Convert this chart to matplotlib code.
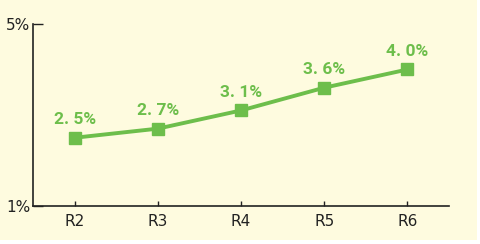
import matplotlib
matplotlib.use("Agg")
import matplotlib.pyplot as plt
from matplotlib.patches import Rectangle

categories = ["R2", "R3", "R4", "R5", "R6"]
values = [2.5, 2.7, 3.1, 3.6, 4.0]
value_labels = ["2. 5%", "2. 7%", "3. 1%", "3. 6%", "4. 0%"]
ytick_values = [1, 5]
ytick_labels = ["1%", "5%"]

W, H = 481, 244
fig = plt.figure(figsize=(W / 100, H / 100), dpi=100, facecolor="white")
fig.patches.append(Rectangle((0, 4 / H), 477 / W, 1 - 4 / H, transform=fig.transFigure,
                             facecolor="#FEFBDF", edgecolor="none", zorder=-10))

ax = fig.add_axes([33 / W, (H - 206) / H, (449 - 33) / W, (206 - 24) / H])
ax.set_facecolor("none")
green = "#6DBE4B"
x = list(range(len(categories)))
ax.plot(x, values, color=green, lw=2.8, marker="s", markersize=8.5, zorder=3, clip_on=False)
for xi, v, lab in zip(x, values, value_labels):
    ax.annotate(lab, (xi, v), xytext=(0, 7.5), textcoords="offset points", ha="center", va="bottom",
                color=green, fontsize=12.5, fontweight="bold", family=["Roboto", "DejaVu Sans"])

ax.set_xlim(-0.5, 4.5)
ax.set_ylim(1, 5)
ax.set_xticks(x)
ax.set_xticklabels(categories)
ax.set_yticks(ytick_values)
ax.set_yticklabels(ytick_labels)
for s in ["top", "right"]:
    ax.spines[s].set_visible(False)
for s in ["left", "bottom"]:
    ax.spines[s].set_color("#222222")
    ax.spines[s].set_linewidth(1.2)
ax.tick_params(axis="x", direction="in", length=3.5, width=1, colors="#222222", labelsize=11, pad=6)
ax.tick_params(axis="y", direction="in", length=7, width=1, colors="#222222", labelsize=11, pad=2)
fig.savefig("out.png", dpi=100, facecolor=fig.get_facecolor())
